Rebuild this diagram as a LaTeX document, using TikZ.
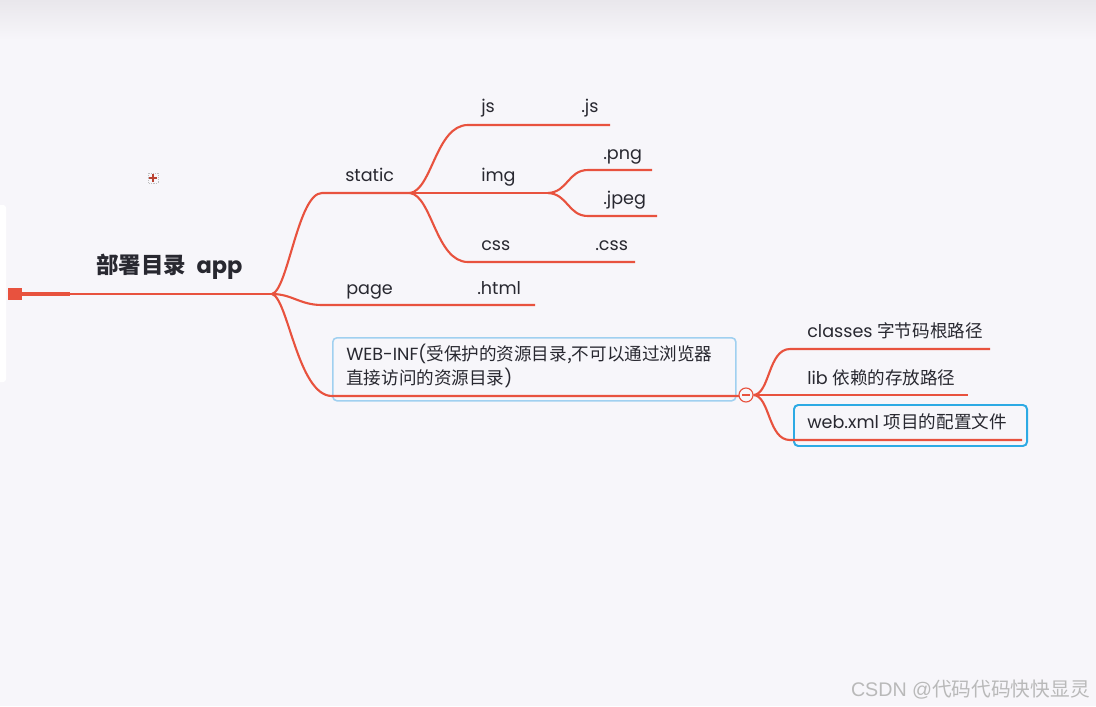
\documentclass[tikz,border=0pt]{standalone}
\usepackage{fontspec}
\setmainfont{Poppins}
\newfontfamily\cjk{Noto Sans CJK SC}
\newfontfamily\wmfont{Liberation Sans}
\usetikzlibrary{positioning, calc}

\definecolor{mmred}{RGB}{232,82,62}
\definecolor{bgcol}{RGB}{247,246,250}
\definecolor{topgray}{RGB}{233,231,236}
\definecolor{txtdark}{RGB}{40,40,48}
\definecolor{boxblue}{RGB}{160,208,240}
\definecolor{selblue}{RGB}{45,170,228}

\begin{document}
\begin{tikzpicture}[
    x=0.025cm, y=-0.025cm,
    branch/.style={
        draw=mmred,
        line width=1.5pt
    },
    lbl/.style={
        font=\fontsize{12.5}{17}\selectfont,
        text=txtdark,
        inner sep=0pt,
        anchor=base west
    },
    title/.style={
        font=\fontsize{16}{18}\selectfont\bfseries,
        text=txtdark,
        inner sep=0pt,
        anchor=base west
    },
    framebox/.style={
        rectangle,
        rounded corners=3pt,
        anchor=north west,
        inner sep=0pt
    }
]

% page and background
\useasboundingbox (0,0) rectangle (1096,706);
\fill[bgcol] (0,0) rectangle (1096,706);
\shade[top color=topgray, bottom color=bgcol] (0,0) rectangle (1096,40);
\fill[white, rounded corners=2pt] (-4,205) rectangle (6,382);

% cursor mark
\draw[gray!50, densely dotted, line width=0.3pt] (148,173) rectangle (158,183);
\draw[mmred!80!black, line width=1pt] (149,178) -- (157,178) (153,174) -- (153,182);

% root
\node[title] (root) at (96,273) {\cjk 部署目录\ \ \normalfont\bfseries app};
\node[rectangle, fill=mmred, minimum width=0.35cm, minimum height=0.3cm, inner sep=0pt] (rootsq) at (15,294) {};
\coordinate (hub) at (272,294);
\draw[branch, line width=2.2pt] (rootsq.east) -- (70,294);
\draw[branch] (70,294) -- (hub);

% first level
\node[lbl] (static) at (345,181) {static};
\node[lbl] (page) at (346,294) {page};
\node[lbl] (pagext) at (477,294) {.html};
\node[framebox, draw=boxblue, line width=1.1pt,
      minimum width=10.075cm, minimum height=1.575cm] (webinf) at (332,337) {};
\node[lbl, align=left, anchor=west] (webtxt) at (346,366)
    {WEB-INF(\cjk 受保护的资源目录,不可以通过浏览器\\\cjk 直接访问的资源目录\normalfont )};

\coordinate (static-a) at (322,193);
\coordinate (static-b) at (410,193);
\coordinate (page-a) at (322,305);
\coordinate (page-b) at (535,305);
\coordinate (web-a) at (332,396);
\coordinate (web-b) at (740,396);

\draw[branch] (hub) .. controls (288,290) and (298,193) .. (static-a) -- (static-b);
\draw[branch] (hub) .. controls (292,294) and (300,305) .. (page-a) -- (page-b);
\draw[branch] (hub) .. controls (288,298) and (298,396) .. (web-a) -- (web-b);

% static children
\node[lbl] (js) at (481,112) {js};
\node[lbl] (jsext) at (581,112) {.js};
\node[lbl] (img) at (481,181) {img};
\node[lbl] (png) at (603,159) {.png};
\node[lbl] (jpeg) at (603,204) {.jpeg};
\node[lbl] (css) at (481,250) {css};
\node[lbl] (cssext) at (595,250) {.css};

\coordinate (js-a) at (468,125);
\coordinate (js-b) at (610,125);
\coordinate (img-b) at (548,193);
\coordinate (css-a) at (468,262);
\coordinate (css-b) at (635,262);
\coordinate (png-a) at (588,170);
\coordinate (png-b) at (652,170);
\coordinate (jpeg-a) at (588,216);
\coordinate (jpeg-b) at (657,216);

\draw[branch] (static-b) .. controls (432,190) and (436,125) .. (js-a) -- (js-b);
\draw[branch] (static-b) -- (img-b);
\draw[branch] (static-b) .. controls (432,196) and (436,262) .. (css-a) -- (css-b);
\draw[branch] (img-b) .. controls (568,192) and (568,170) .. (png-a) -- (png-b);
\draw[branch] (img-b) .. controls (568,194) and (568,216) .. (jpeg-a) -- (jpeg-b);

% WEB-INF children
\node[framebox, draw=selblue, line width=1.4pt,
      minimum width=5.825cm, minimum height=1.025cm] (webxmlbox) at (793,404) {};
\node[lbl] (classes) at (807,337) {classes \cjk 字节码根路径};
\node[lbl] (lib) at (807,384) {lib \cjk 依赖的存放路径};
\node[lbl] (webxml) at (807,428) {web.xml \cjk 项目的配置文件};

\coordinate (cls-a) at (790,349);
\coordinate (cls-b) at (990,349);
\coordinate (lib-b) at (968,395);
\coordinate (wx-a) at (790,440);
\coordinate (wx-b) at (1022,440);

\node[circle, draw=mmred, fill=bgcol, line width=0.8pt, minimum size=0.35cm, inner sep=0pt] (fold) at (746,395) {};
\draw[mmred, line width=0.8pt] ([xshift=-0.1cm]fold.center) -- ([xshift=0.1cm]fold.center);

\draw[branch] (fold.east) .. controls (770,394) and (768,349) .. (cls-a) -- (cls-b);
\draw[branch] (fold.east) -- (lib-b);
\draw[branch] (fold.east) .. controls (770,396) and (768,440) .. (wx-a) -- (wx-b);

% watermark
\node[anchor=east, inner sep=0pt, text=gray!55, font=\fontsize{14}{16}\selectfont] (mark) at (1090,690)
    {\wmfont CSDN @\cjk 代码代码快快显灵};

\end{tikzpicture}
\end{document}
